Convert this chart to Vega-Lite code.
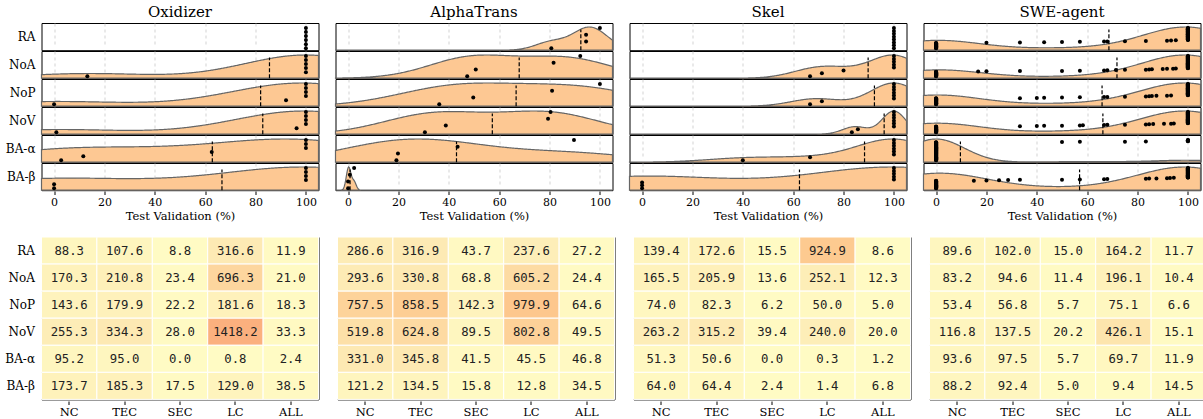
{
"$schema": "https://vega.github.io/schema/vega-lite/v6.json",
"background": "white",
"padding": {"left": 4.5, "top": 5, "right": 2, "bottom": 2},
"config": {
  "view": {"stroke": "black", "strokeWidth": 1},
  "font": "DejaVu Serif",
  "axis": {"labelFont": "DejaVu Serif", "titleFont": "DejaVu Serif", "labelColor": "black", "titleColor": "black", "tickColor": "black", "titleFontWeight": "normal"},
  "header": {"labelFont": "DejaVu Serif", "labelColor": "black"}
},
"datasets": {
  "pts": [
    {"t":"Oxidizer","v":"RA","x":[100,100,100,100,100,100]},
    {"t":"Oxidizer","v":"NoA","x":[13.2,100,100,100,100,100]},
    {"t":"Oxidizer","v":"NoP","x":[0,92.1,100,100,100,100]},
    {"t":"Oxidizer","v":"NoV","x":[0.9,96.3,100,100,100,100]},
    {"t":"Oxidizer","v":"BA-α","x":[2.8,11.6,62.6,100,100,100]},
    {"t":"Oxidizer","v":"BA-β","x":[0,0,100,100,100,100]},
    {"t":"AlphaTrans","v":"RA","x":[80.7,94.5,94.5,100]},
    {"t":"AlphaTrans","v":"NoA","x":[47.3,50.7,81.6,92.2]},
    {"t":"AlphaTrans","v":"NoP","x":[36.2,49.7,81.0,100]},
    {"t":"AlphaTrans","v":"NoV","x":[30.5,38.8,79.4,80.4]},
    {"t":"AlphaTrans","v":"BA-α","x":[19.2,19.8,43.5,89.7]},
    {"t":"AlphaTrans","v":"BA-β","x":[0,0,0.7,2.4]},
    {"t":"Skel","v":"RA","x":[100,100,100,100,100,100,100,100]},
    {"t":"Skel","v":"NoA","x":[66.7,71.4,80,100,100,100,100,100]},
    {"t":"Skel","v":"NoP","x":[66.7,71.4,100,100,100,100,100,100]},
    {"t":"Skel","v":"NoV","x":[83.3,85.7,100,100,100,100,100,100]},
    {"t":"Skel","v":"BA-α","x":[40,66.7,100,100,100,100,100,100]},
    {"t":"Skel","v":"BA-β","x":[0,0,0,100,100,100,100,100]},
    {"t":"SWE-agent","v":"RA","x":[0,0,0,0,0,0,0,0,0,0,0,0,0,0,0,0,0,0,0,0,0,0,0,0,20,33.3,42.9,50,57.1,66.7,68,75,83.3,91.7,93.3,95.2,100,100,100,100,100,100,100,100,100,100,100,100,100,100,100,100,100,100,100,100,100,100,100,100,100,100,100,100,100,100,100,100,100,100,100,100,100,100,100,100,100,100,100,100,100,100,100,100,100,100,100,100,100,100]},
    {"t":"SWE-agent","v":"NoA","x":[0,0,0,0,0,0,0,0,0,0,0,0,0,0,0,0,0,0,0,0,0,0,0,16.7,20,33.3,50,57.1,66.7,68,71.4,75,83.3,84.6,85.7,90,91.7,94.1,95.2,100,100,100,100,100,100,100,100,100,100,100,100,100,100,100,100,100,100,100,100,100,100,100,100,100,100,100,100,100,100,100,100,100,100,100,100,100,100,100,100,100,100,100,100,100,100,100,100,100,100,100,100,100,100,100,100,100,100,100,100,100]},
    {"t":"SWE-agent","v":"NoP","x":[0,0,0,0,0,0,0,0,0,0,0,0,0,0,0,0,0,0,0,0,0,0,0,0,0,0,0,0,0,33.3,40,42.9,50,57.1,66.7,68,75,83.3,84.6,85.7,87.5,91.7,93.3,100,100,100,100,100,100,100,100,100,100,100,100,100,100,100,100,100,100,100,100,100,100,100,100,100,100,100,100,100,100,100,100,100,100,100,100,100,100,100,100,100,100,100,100,100,100,100,100,100,100,100,100,100,100,100]},
    {"t":"SWE-agent","v":"NoV","x":[0,0,0,0,0,0,0,0,0,0,0,0,0,0,0,0,0,0,0,0,0,0,0,0,0,0,0,0,0,33.3,40,42.9,50,57.1,58.3,66.7,68,75,83.3,84.6,86.2,90.5,93.3,94.4,100,100,100,100,100,100,100,100,100,100,100,100,100,100,100,100,100,100,100,100,100,100,100,100,100,100,100,100,100,100,100,100,100,100,100,100,100,100,100,100,100,100,100,100,100,100,100,100,100,100,100,100,100,100,100,100]},
    {"t":"SWE-agent","v":"BA-α","x":[0,0,0,0,0,0,0,0,0,0,0,0,0,0,0,0,0,0,0,0,0,0,0,0,0,0,0,0,0,0,0,0,0,0,0,0,0,0,0,0,0,0,0,0,0,0,0,0,0,0,0,0,0,0,0,0,0,0,0,0,0,0,0,0,0,0,0,0,0,0,0,0,0,0,0,0,0,0,0,0,0,0,0,0,0,0,0,0,0,50,57.1,75,83.3,100,100,100,100,100,100,100]},
    {"t":"SWE-agent","v":"BA-β","x":[0,0,0,0,0,0,0,0,0,0,0,0,0,0,0,0,0,0,0,0,0,0,0,0,0,0,0,0,0,0,0,0,0,0,0,0,0,15,20,25,28.6,33.3,50,57.1,66.7,68,83.3,84.6,87.5,91.7,92.9,94.4,100,100,100,100,100,100,100,100,100,100,100,100,100,100,100,100,100,100,100,100,100,100,100,100,100,100,100,100,100,100,100,100,100,100,100,100,100,100,100,100,100,100,100,100,100,100,100,100]}
  ],
  "heat": [
    {"t":"Oxidizer","v":"RA","c":["NC","TEC","SEC","LC","ALL"],"val":[88.3,107.6,8.8,316.6,11.9]},
    {"t":"Oxidizer","v":"NoA","c":["NC","TEC","SEC","LC","ALL"],"val":[170.3,210.8,23.4,696.3,21.0]},
    {"t":"Oxidizer","v":"NoP","c":["NC","TEC","SEC","LC","ALL"],"val":[143.6,179.9,22.2,181.6,18.3]},
    {"t":"Oxidizer","v":"NoV","c":["NC","TEC","SEC","LC","ALL"],"val":[255.3,334.3,28.0,1418.2,33.3]},
    {"t":"Oxidizer","v":"BA-α","c":["NC","TEC","SEC","LC","ALL"],"val":[95.2,95.0,0.0,0.8,2.4]},
    {"t":"Oxidizer","v":"BA-β","c":["NC","TEC","SEC","LC","ALL"],"val":[173.7,185.3,17.5,129.0,38.5]},
    {"t":"AlphaTrans","v":"RA","c":["NC","TEC","SEC","LC","ALL"],"val":[286.6,316.9,43.7,237.6,27.2]},
    {"t":"AlphaTrans","v":"NoA","c":["NC","TEC","SEC","LC","ALL"],"val":[293.6,330.8,68.8,605.2,24.4]},
    {"t":"AlphaTrans","v":"NoP","c":["NC","TEC","SEC","LC","ALL"],"val":[757.5,858.5,142.3,979.9,64.6]},
    {"t":"AlphaTrans","v":"NoV","c":["NC","TEC","SEC","LC","ALL"],"val":[519.8,624.8,89.5,802.8,49.5]},
    {"t":"AlphaTrans","v":"BA-α","c":["NC","TEC","SEC","LC","ALL"],"val":[331.0,345.8,41.5,45.5,46.8]},
    {"t":"AlphaTrans","v":"BA-β","c":["NC","TEC","SEC","LC","ALL"],"val":[121.2,134.5,15.8,12.8,34.5]},
    {"t":"Skel","v":"RA","c":["NC","TEC","SEC","LC","ALL"],"val":[139.4,172.6,15.5,924.9,8.6]},
    {"t":"Skel","v":"NoA","c":["NC","TEC","SEC","LC","ALL"],"val":[165.5,205.9,13.6,252.1,12.3]},
    {"t":"Skel","v":"NoP","c":["NC","TEC","SEC","LC","ALL"],"val":[74.0,82.3,6.2,50.0,5.0]},
    {"t":"Skel","v":"NoV","c":["NC","TEC","SEC","LC","ALL"],"val":[263.2,315.2,39.4,240.0,20.0]},
    {"t":"Skel","v":"BA-α","c":["NC","TEC","SEC","LC","ALL"],"val":[51.3,50.6,0.0,0.3,1.2]},
    {"t":"Skel","v":"BA-β","c":["NC","TEC","SEC","LC","ALL"],"val":[64.0,64.4,2.4,1.4,6.8]},
    {"t":"SWE-agent","v":"RA","c":["NC","TEC","SEC","LC","ALL"],"val":[89.6,102.0,15.0,164.2,11.7]},
    {"t":"SWE-agent","v":"NoA","c":["NC","TEC","SEC","LC","ALL"],"val":[83.2,94.6,11.4,196.1,10.4]},
    {"t":"SWE-agent","v":"NoP","c":["NC","TEC","SEC","LC","ALL"],"val":[53.4,56.8,5.7,75.1,6.6]},
    {"t":"SWE-agent","v":"NoV","c":["NC","TEC","SEC","LC","ALL"],"val":[116.8,137.5,20.2,426.1,15.1]},
    {"t":"SWE-agent","v":"BA-α","c":["NC","TEC","SEC","LC","ALL"],"val":[93.6,97.5,5.7,69.7,11.9]},
    {"t":"SWE-agent","v":"BA-β","c":["NC","TEC","SEC","LC","ALL"],"val":[88.2,92.4,5.0,9.4,14.5]}
  ]
},
"spacing": 14,
"vconcat": [
  {
    "data": {"name": "pts"},
    "transform": [{"flatten": ["x"]}],
    "facet": {
      "row": {"field": "v", "type": "nominal", "sort": ["RA","NoA","NoP","NoV","BA-α","BA-β"], "header": {"title": null, "labelAngle": 0, "labelAlign": "left", "labelFontSize": 12, "labelPadding": 6}},
      "column": {"field": "t", "type": "nominal", "sort": ["Oxidizer","AlphaTrans","Skel","SWE-agent"], "header": {"title": null, "labelFontSize": 15, "labelPadding": 3}}
    },
    "spacing": {"row": 0, "column": 17},
    "bounds": "flush",
    "resolve": {"scale": {"y": "independent"}},
    "spec": {
      "width": 277,
      "height": 27.2,
      "encoding": {
        "x": {"field": "x", "type": "quantitative", "scale": {"domain": [-5, 105], "nice": false, "zero": false},
              "axis": {"values": [0,20,40,60,80,100], "title": "Test Validation (%)", "grid": true, "gridDash": [3,3], "gridColor": "#c8c8c8", "gridWidth": 0.8, "domain": false, "tickSize": 3.5, "labelFontSize": 11, "titleFontSize": 11.5, "labelPadding": 2, "titlePadding": 3}}
      },
      "resolve": {"scale": {"y": "independent"}},
      "layer": [
        {
          "layer": [
            {"transform": [{"filter": "datum.t==='Oxidizer' && datum.v==='NoA'"}, {"density": "x", "bandwidth": 24.76, "extent": [-5,105], "steps": 300, "groupby": ["t","v"], "as": ["x","density"]}],
             "mark": {"type": "area", "fill": "#fdc893", "stroke": "#666666", "strokeWidth": 1.2},
             "encoding": {"y": {"field": "density", "type": "quantitative", "axis": null, "scale": {"range": [27.2, 4], "zero": true, "nice": false}}}},
            {"transform": [{"filter": "datum.t==='Oxidizer' && datum.v==='NoP'"}, {"density": "x", "bandwidth": 28.16, "extent": [-5,105], "steps": 300, "groupby": ["t","v"], "as": ["x","density"]}],
             "mark": {"type": "area", "fill": "#fdc893", "stroke": "#666666", "strokeWidth": 1.2},
             "encoding": {"y": {"field": "density", "type": "quantitative", "axis": null, "scale": {"range": [27.2, 4], "zero": true, "nice": false}}}},
            {"transform": [{"filter": "datum.t==='Oxidizer' && datum.v==='NoV'"}, {"density": "x", "bandwidth": 28.08, "extent": [-5,105], "steps": 300, "groupby": ["t","v"], "as": ["x","density"]}],
             "mark": {"type": "area", "fill": "#fdc893", "stroke": "#666666", "strokeWidth": 1.2},
             "encoding": {"y": {"field": "density", "type": "quantitative", "axis": null, "scale": {"range": [27.2, 4], "zero": true, "nice": false}}}},
            {"transform": [{"filter": "datum.t==='Oxidizer' && datum.v==='BA-α'"}, {"density": "x", "bandwidth": 31.83, "extent": [-5,105], "steps": 300, "groupby": ["t","v"], "as": ["x","density"]}],
             "mark": {"type": "area", "fill": "#fdc893", "stroke": "#666666", "strokeWidth": 1.2},
             "encoding": {"y": {"field": "density", "type": "quantitative", "axis": null, "scale": {"range": [27.2, 4], "zero": true, "nice": false}}}},
            {"transform": [{"filter": "datum.t==='Oxidizer' && datum.v==='BA-β'"}, {"density": "x", "bandwidth": 36.08, "extent": [-5,105], "steps": 300, "groupby": ["t","v"], "as": ["x","density"]}],
             "mark": {"type": "area", "fill": "#fdc893", "stroke": "#666666", "strokeWidth": 1.2},
             "encoding": {"y": {"field": "density", "type": "quantitative", "axis": null, "scale": {"range": [27.2, 4], "zero": true, "nice": false}}}},
            {"transform": [{"filter": "datum.t==='AlphaTrans' && datum.v==='RA'"}, {"density": "x", "bandwidth": 6.24, "extent": [-5,105], "steps": 300, "groupby": ["t","v"], "as": ["x","density"]}],
             "mark": {"type": "area", "fill": "#fdc893", "stroke": "#666666", "strokeWidth": 1.2},
             "encoding": {"y": {"field": "density", "type": "quantitative", "axis": null, "scale": {"range": [27.2, 4], "zero": true, "nice": false}}}},
            {"transform": [{"filter": "datum.t==='AlphaTrans' && datum.v==='NoA'"}, {"density": "x", "bandwidth": 16.94, "extent": [-5,105], "steps": 300, "groupby": ["t","v"], "as": ["x","density"]}],
             "mark": {"type": "area", "fill": "#fdc893", "stroke": "#666666", "strokeWidth": 1.2},
             "encoding": {"y": {"field": "density", "type": "quantitative", "axis": null, "scale": {"range": [27.2, 4], "zero": true, "nice": false}}}},
            {"transform": [{"filter": "datum.t==='AlphaTrans' && datum.v==='NoP'"}, {"density": "x", "bandwidth": 22.02, "extent": [-5,105], "steps": 300, "groupby": ["t","v"], "as": ["x","density"]}],
             "mark": {"type": "area", "fill": "#fdc893", "stroke": "#666666", "strokeWidth": 1.2},
             "encoding": {"y": {"field": "density", "type": "quantitative", "axis": null, "scale": {"range": [27.2, 4], "zero": true, "nice": false}}}},
            {"transform": [{"filter": "datum.t==='AlphaTrans' && datum.v==='NoV'"}, {"density": "x", "bandwidth": 19.97, "extent": [-5,105], "steps": 300, "groupby": ["t","v"], "as": ["x","density"]}],
             "mark": {"type": "area", "fill": "#fdc893", "stroke": "#666666", "strokeWidth": 1.2},
             "encoding": {"y": {"field": "density", "type": "quantitative", "axis": null, "scale": {"range": [27.2, 4], "zero": true, "nice": false}}}},
            {"transform": [{"filter": "datum.t==='AlphaTrans' && datum.v==='BA-α'"}, {"density": "x", "bandwidth": 25.08, "extent": [-5,105], "steps": 300, "groupby": ["t","v"], "as": ["x","density"]}],
             "mark": {"type": "area", "fill": "#fdc893", "stroke": "#666666", "strokeWidth": 1.2},
             "encoding": {"y": {"field": "density", "type": "quantitative", "axis": null, "scale": {"range": [27.2, 4], "zero": true, "nice": false}}}},
            {"transform": [{"filter": "datum.t==='AlphaTrans' && datum.v==='BA-β'"}, {"density": "x", "bandwidth": 0.86, "extent": [-5,105], "steps": 441, "groupby": ["t","v"], "as": ["x","density"]}],
             "mark": {"type": "area", "fill": "#fdc893", "stroke": "#666666", "strokeWidth": 1.2},
             "encoding": {"y": {"field": "density", "type": "quantitative", "axis": null, "scale": {"range": [27.2, 4], "zero": true, "nice": false}}}},
            {"transform": [{"filter": "datum.t==='Skel' && datum.v==='NoA'"}, {"density": "x", "bandwidth": 9.62, "extent": [-5,105], "steps": 300, "groupby": ["t","v"], "as": ["x","density"]}],
             "mark": {"type": "area", "fill": "#fdc893", "stroke": "#666666", "strokeWidth": 1.2},
             "encoding": {"y": {"field": "density", "type": "quantitative", "axis": null, "scale": {"range": [27.2, 4], "zero": true, "nice": false}}}},
            {"transform": [{"filter": "datum.t==='Skel' && datum.v==='NoP'"}, {"density": "x", "bandwidth": 9.49, "extent": [-5,105], "steps": 300, "groupby": ["t","v"], "as": ["x","density"]}],
             "mark": {"type": "area", "fill": "#fdc893", "stroke": "#666666", "strokeWidth": 1.2},
             "encoding": {"y": {"field": "density", "type": "quantitative", "axis": null, "scale": {"range": [27.2, 4], "zero": true, "nice": false}}}},
            {"transform": [{"filter": "datum.t==='Skel' && datum.v==='NoV'"}, {"density": "x", "bandwidth": 4.75, "extent": [-5,105], "steps": 300, "groupby": ["t","v"], "as": ["x","density"]}],
             "mark": {"type": "area", "fill": "#fdc893", "stroke": "#666666", "strokeWidth": 1.2},
             "encoding": {"y": {"field": "density", "type": "quantitative", "axis": null, "scale": {"range": [27.2, 4], "zero": true, "nice": false}}}},
            {"transform": [{"filter": "datum.t==='Skel' && datum.v==='BA-α'"}, {"density": "x", "bandwidth": 15.0, "extent": [-5,105], "steps": 300, "groupby": ["t","v"], "as": ["x","density"]}],
             "mark": {"type": "area", "fill": "#fdc893", "stroke": "#666666", "strokeWidth": 1.2},
             "encoding": {"y": {"field": "density", "type": "quantitative", "axis": null, "scale": {"range": [27.2, 4], "zero": true, "nice": false}}}},
            {"transform": [{"filter": "datum.t==='Skel' && datum.v==='BA-β'"}, {"density": "x", "bandwidth": 34.15, "extent": [-5,105], "steps": 300, "groupby": ["t","v"], "as": ["x","density"]}],
             "mark": {"type": "area", "fill": "#fdc893", "stroke": "#666666", "strokeWidth": 1.2},
             "encoding": {"y": {"field": "density", "type": "quantitative", "axis": null, "scale": {"range": [27.2, 4], "zero": true, "nice": false}}}},
            {"transform": [{"filter": "datum.t==='SWE-agent' && datum.v==='RA'"}, {"density": "x", "bandwidth": 17.07, "extent": [-5,105], "steps": 300, "groupby": ["t","v"], "as": ["x","density"]}],
             "mark": {"type": "area", "fill": "#fdc893", "stroke": "#666666", "strokeWidth": 1.2},
             "encoding": {"y": {"field": "density", "type": "quantitative", "axis": null, "scale": {"range": [27.2, 4], "zero": true, "nice": false}}}},
            {"transform": [{"filter": "datum.t==='SWE-agent' && datum.v==='NoA'"}, {"density": "x", "bandwidth": 16.85, "extent": [-5,105], "steps": 300, "groupby": ["t","v"], "as": ["x","density"]}],
             "mark": {"type": "area", "fill": "#fdc893", "stroke": "#666666", "strokeWidth": 1.2},
             "encoding": {"y": {"field": "density", "type": "quantitative", "axis": null, "scale": {"range": [27.2, 4], "zero": true, "nice": false}}}},
            {"transform": [{"filter": "datum.t==='SWE-agent' && datum.v==='NoP'"}, {"density": "x", "bandwidth": 17.80, "extent": [-5,105], "steps": 300, "groupby": ["t","v"], "as": ["x","density"]}],
             "mark": {"type": "area", "fill": "#fdc893", "stroke": "#666666", "strokeWidth": 1.2},
             "encoding": {"y": {"field": "density", "type": "quantitative", "axis": null, "scale": {"range": [27.2, 4], "zero": true, "nice": false}}}},
            {"transform": [{"filter": "datum.t==='SWE-agent' && datum.v==='NoV'"}, {"density": "x", "bandwidth": 17.76, "extent": [-5,105], "steps": 300, "groupby": ["t","v"], "as": ["x","density"]}],
             "mark": {"type": "area", "fill": "#fdc893", "stroke": "#666666", "strokeWidth": 1.2},
             "encoding": {"y": {"field": "density", "type": "quantitative", "axis": null, "scale": {"range": [27.2, 4], "zero": true, "nice": false}}}},
            {"transform": [{"filter": "datum.t==='SWE-agent' && datum.v==='BA-α'"}, {"density": "x", "bandwidth": 11.25, "extent": [-5,105], "steps": 300, "groupby": ["t","v"], "as": ["x","density"]}],
             "mark": {"type": "area", "fill": "#fdc893", "stroke": "#666666", "strokeWidth": 1.2},
             "encoding": {"y": {"field": "density", "type": "quantitative", "axis": null, "scale": {"range": [27.2, 4], "zero": true, "nice": false}}}},
            {"transform": [{"filter": "datum.t==='SWE-agent' && datum.v==='BA-β'"}, {"density": "x", "bandwidth": 18.81, "extent": [-5,105], "steps": 300, "groupby": ["t","v"], "as": ["x","density"]}],
             "mark": {"type": "area", "fill": "#fdc893", "stroke": "#666666", "strokeWidth": 1.2},
             "encoding": {"y": {"field": "density", "type": "quantitative", "axis": null, "scale": {"range": [27.2, 4], "zero": true, "nice": false}}}}
          ]
        },
        {
          "layer": [
            {"transform": [{"aggregate": [{"op": "mean", "field": "x", "as": "x"}], "groupby": ["t","v"]}],
             "mark": {"type": "rule", "strokeDash": [4,2], "color": "black", "strokeWidth": 1.2},
             "encoding": {"y": {"datum": -0.1, "type": "quantitative", "axis": null, "scale": {"domain": [0,1], "range": [25.2, 5]}}, "y2": {"datum": 0.93}}},
            {"transform": [
                {"window": [{"op": "row_number", "as": "rn"}], "sort": [{"field": "x"}], "groupby": ["t","v"]},
                {"window": [{"op": "percent_rank", "as": "pr"}], "sort": [{"field": "rn"}], "groupby": ["t","v"]}
             ],
             "mark": {"type": "circle", "size": 16, "color": "black", "opacity": 1},
             "encoding": {"y": {"field": "pr", "type": "quantitative", "axis": null, "scale": {"domain": [0,1], "range": [25.2, 5]}}}}
          ]
        }
      ]
    }
  },
  {
    "data": {"name": "heat"},
    "transform": [{"flatten": ["c","val"]}],
    "facet": {"column": {"field": "t", "type": "nominal", "sort": ["Oxidizer","AlphaTrans","Skel","SWE-agent"], "header": {"labels": false, "title": null}}},
    "spacing": 17,
    "spec": {
      "width": 277,
      "height": 162.4,
      "encoding": {
        "x": {"field": "c", "type": "nominal", "sort": ["NC","TEC","SEC","LC","ALL"], "scale": {"paddingInner": 0, "paddingOuter": 0}, "axis": {"title": null, "labelAngle": 0, "labelFontSize": 11.5, "tickSize": 3.5, "domain": false, "labelPadding": 2}},
        "y": {"field": "v", "type": "nominal", "sort": ["RA","NoA","NoP","NoV","BA-α","BA-β"], "scale": {"paddingInner": 0, "paddingOuter": 0}, "axis": {"title": null, "labelFontSize": 12, "ticks": false, "domain": false, "labelPadding": 6}}
      },
      "layer": [
        {"mark": {"type": "rect", "stroke": "white", "strokeWidth": 1},
         "encoding": {"color": {"field": "val", "type": "quantitative", "legend": null, "scale": {"domain": [0, 300, 700, 1000, 1420], "range": ["#fffbc4", "#fdebb5", "#fdd69e", "#fdc68c", "#fbb07e"]}}}},
        {"mark": {"type": "text", "font": "DejaVu Sans Mono", "fontSize": 12.3, "color": "#222222"},
         "encoding": {"text": {"field": "val", "type": "quantitative", "format": ".1f"}}}
      ]
    }
  }
]
}
